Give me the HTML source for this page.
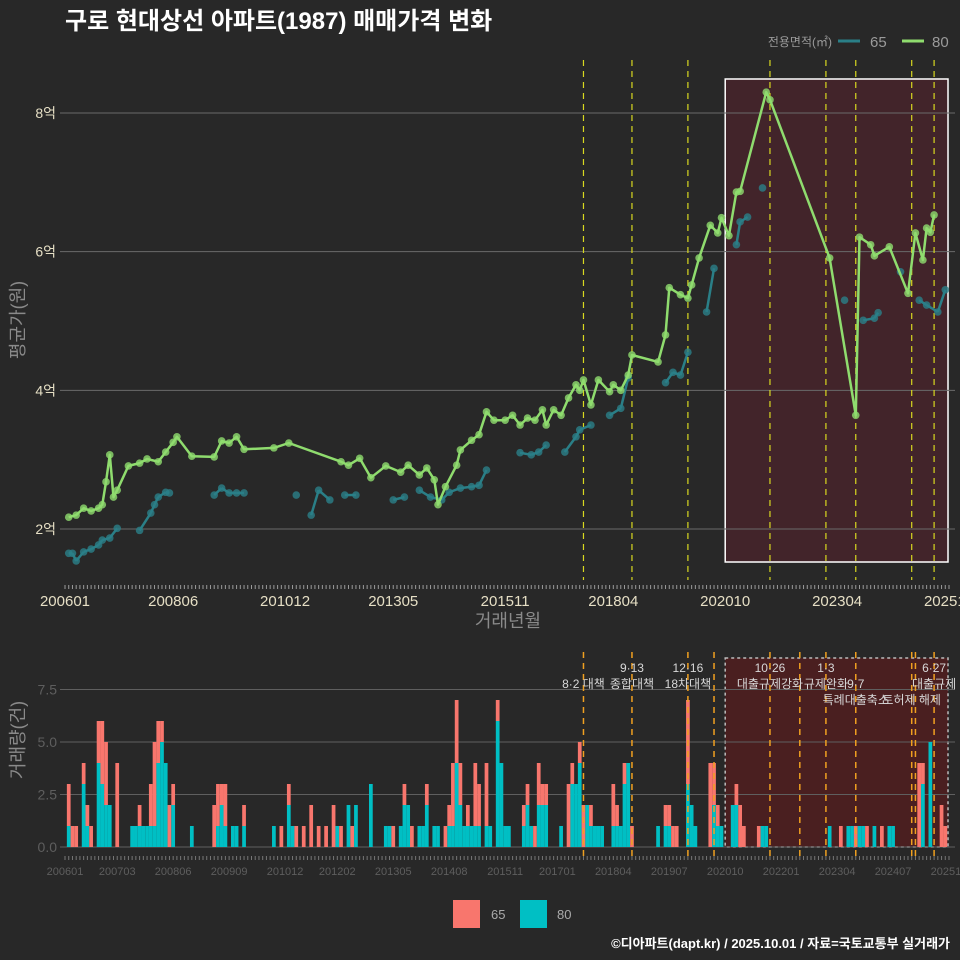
<!DOCTYPE html>
<html><head><meta charset="utf-8">
<style>
html,body{margin:0;padding:0;background:#282828;overflow:hidden}
#wrap{position:relative;width:960px;height:960px;background:#282828;font-family:"Liberation Sans","Noto Sans CJK KR",sans-serif;overflow:hidden}
svg{position:absolute;left:0;top:0}
text{font-family:"Liberation Sans","Noto Sans CJK KR",sans-serif}
</style></head><body>
<div id="wrap">
<svg id="chart" width="960" height="960" viewBox="0 0 960 960">
<text x="65" y="29" font-size="24" font-weight="bold" fill="#ffffff">구로 현대상선 아파트(1987) 매매가격 변화</text>
<g>
<text x="832" y="46" font-size="12" fill="#9a9a9a" text-anchor="end">전용면적(㎡)</text>
<line x1="838" y1="41" x2="860" y2="41" stroke="#2a7f87" stroke-width="3"/>
<text x="870" y="47" font-size="15" fill="#9a9a9a">65</text>
<line x1="902" y1="41" x2="924" y2="41" stroke="#8fdc6e" stroke-width="3"/>
<text x="932" y="47" font-size="15" fill="#9a9a9a">80</text>
</g>
<text transform="translate(24,320) rotate(-90)" font-size="18" fill="#8a8a8a" text-anchor="middle">평균가(원)</text>
<text x="508" y="627" font-size="18" fill="#8a8a8a" text-anchor="middle">거래년월</text>
<text transform="translate(24,740) rotate(-90)" font-size="18" fill="#8a8a8a" text-anchor="middle">거래량(건)</text>
<g>
<rect x="453" y="900" width="27" height="28" fill="#f8766d"/>
<text x="491" y="919" font-size="13" fill="#aaaaaa">65</text>
<rect x="520" y="900" width="27" height="28" fill="#00bfc4"/>
<text x="557" y="919" font-size="13" fill="#aaaaaa">80</text>
</g>
<text x="950" y="948" font-size="13" font-weight="bold" fill="#ffffff" text-anchor="end">©디아파트(dapt.kr) / 2025.10.01 / 자료=국토교통부 실거래가</text>
</svg>
</div>
<script>
// ---- data ----
const priceTicks = [2, 4, 6, 8];
const volTicks = [0, 2.5, 5, 7.5];
const topTickLabels = ["200601","200806","201012","201305","201511","201804","202010","202304","202510"];
const bottomTickLabels = ["200601","200703","200806","200909","201012","201202","201305","201408","201511","201701","201804","201907","202010","202201","202304","202407","202510"];
const s80Dates = ["200602","200604","200606","200608","200610","200611","200612","200701","200702","200703","200706","200709","200711","200802","200804","200806","200807","200811","200905","200907","200909","200911","201001","201009","201101","201203","201205","201208","201211","201303","201307","201309","201312","201402","201404","201405","201407","201410","201411","201502","201504","201506","201508","201511","201601","201603","201605","201607","201609","201610","201612","201702","201704","201706","201707","201708","201710","201712","201803","201804","201806","201808","201809","201904","201906","201907","201910","201912","202001","202003","202006","202008","202009","202011","202101","202102","202109","202110","202302","202309","202310","202401","202402","202406","202411","202501","202503","202504","202505","202506"];
const s80Values = [2.17,2.20,2.30,2.26,2.30,2.35,2.68,3.07,2.46,2.56,2.91,2.95,3.01,2.97,3.11,3.25,3.33,3.05,3.04,3.27,3.24,3.33,3.15,3.17,3.24,2.97,2.92,3.02,2.74,2.91,2.82,2.92,2.78,2.88,2.71,2.35,2.61,2.92,3.14,3.28,3.36,3.69,3.57,3.57,3.64,3.50,3.60,3.57,3.72,3.50,3.72,3.64,3.89,4.08,4.00,4.15,3.79,4.15,3.98,4.08,4.00,4.22,4.51,4.41,4.80,5.48,5.38,5.33,5.52,5.91,6.38,6.27,6.49,6.23,6.86,6.87,8.30,8.19,5.91,3.64,6.21,6.10,5.94,6.07,5.40,6.27,5.88,6.34,6.28,6.53];
const s65Dates = ["200602","200603","200604","200606","200608","200610","200611","200701","200703","200709","200712","200801","200802","200804","200805","200905","200907","200909","200911","201001","201103","201107","201109","201112","201204","201207","201305","201308","201312","201403","201406","201408","201411","201502","201504","201506","201603","201606","201608","201610","201703","201706","201707","201710","201803","201806","201808","201906","201908","201910","201912","202005","202007","202101","202102","202104","202108","202306","202311","202402","202403","202409","202502","202504","202507","202509"];
const s65Values = [1.65,1.65,1.54,1.67,1.71,1.77,1.84,1.87,2.01,1.98,2.23,2.35,2.46,2.53,2.52,2.49,2.59,2.52,2.52,2.52,2.49,2.20,2.56,2.42,2.49,2.49,2.42,2.46,2.56,2.46,2.42,2.53,2.59,2.61,2.63,2.85,3.10,3.07,3.11,3.21,3.11,3.33,3.43,3.50,3.64,3.74,4.18,4.11,4.26,4.22,4.55,5.13,5.76,6.10,6.43,6.50,6.92,5.30,5.01,5.04,5.12,5.71,5.30,5.23,5.13,5.45];
const volMonths = ["200602","200603","200604","200606","200607","200608","200610","200611","200612","200701","200703","200707","200708","200709","200710","200711","200712","200801","200802","200803","200804","200805","200806","200811","200905","200906","200907","200908","200910","200911","201001","201009","201011","201101","201102","201103","201105","201107","201109","201111","201201","201202","201203","201205","201206","201207","201211","201303","201304","201305","201307","201308","201309","201310","201312","201401","201402","201404","201405","201407","201408","201409","201410","201411","201412","201501","201502","201503","201504","201506","201507","201509","201510","201511","201512","201604","201605","201606","201607","201608","201609","201610","201702","201704","201705","201706","201707","201708","201709","201710","201711","201712","201801","201804","201805","201806","201807","201808","201809","201904","201906","201907","201908","201909","201912","202001","202002","202006","202007","202008","202009","202012","202101","202102","202103","202107","202108","202109","202302","202305","202307","202308","202309","202310","202311","202312","202402","202404","202406","202407","202502","202503","202505","202508","202509"];
const vol65 = [2,1,1,1,1,1,2,3,3,0,4,0,0,1,0,0,2,4,2,1,0,2,1,0,2,2,1,2,0,0,1,0,1,1,0,1,1,2,1,1,2,0,1,0,1,0,0,0,0,1,0,1,0,1,0,0,1,0,0,1,1,3,3,2,0,1,0,3,2,3,0,1,0,0,0,1,1,0,1,2,1,1,0,3,1,0,1,2,0,1,0,0,0,2,1,0,1,0,1,0,1,1,1,1,4,0,0,4,2,1,0,0,1,2,1,1,0,0,0,1,0,0,1,0,0,1,0,1,0,0,4,1,0,2,1];
const vol80 = [1,0,0,3,1,0,4,3,2,2,0,1,1,1,1,1,1,1,4,5,4,0,2,1,0,1,2,1,1,1,1,1,0,2,1,0,0,0,0,0,0,1,0,2,0,2,3,1,1,0,1,2,2,0,1,1,2,1,1,0,1,1,4,2,1,1,1,1,1,1,1,6,4,1,1,1,2,1,0,2,2,2,1,0,3,3,4,0,2,1,1,1,1,1,1,1,3,4,0,1,1,1,0,0,3,2,1,0,2,1,1,2,2,0,0,0,1,1,1,0,1,1,0,1,1,0,1,0,1,1,0,3,5,0,0];
const policyTopMonths = ["201708","201809","201912","202110","202301","202309","202412","202506"];
const policyBottomMonths = ["201708","201809","201912","202007","202110","202206","202301","202309","202412","202501","202506"];
const policyLabelMonths = ["201708","201809","201809","201912","201912","202110","202110","202301","202301","202309","202309","202412","202506","202506"];
const policyLabelTexts = ["8·2 대책","9·13","종합대책","12·16","18차대책","10·26","대출규제강화","1·3","규제완화","9·7","특례대출축소","토허제 해제","6·27","대출규제"];
const policyLabelRows = [1,0,1,0,1,0,1,0,1,1,2,2,0,1];
const highlightStart = "202010";

// ---- scales ----
const NS = "http://www.w3.org/2000/svg";
const svgEl = document.getElementById("chart");
function mIdx(d){ return (parseInt(d.slice(0,4),10)-2006)*12 + parseInt(d.slice(4,6),10) - 1; }
function xScale(d){ return 65 + mIdx(d)*3.73; }
function yPrice(v){ return 529 - (v-2)*69.33; }
function yVol(v){ return 847 - v*21; }
function mk(tag, attrs, parent){ const e=document.createElementNS(NS,tag); for(const k in attrs) e.setAttribute(k,attrs[k]); (parent||svgEl).appendChild(e); return e; }

const topG = mk("g",{});


const botG = mk("g",{});



const hb = mk("rect",{x:xScale(highlightStart),y:79,width:948-xScale(highlightStart),height:483,fill:"#42242a",stroke:"#ffffff","stroke-width":1.5},topG);


const hb2 = mk("rect",{x:xScale(highlightStart),y:658,width:948-xScale(highlightStart),height:189,fill:"#4a1f20",stroke:"#bbbbbb","stroke-width":1.5,"stroke-dasharray":"3,3"},botG);



priceTicks.forEach(t=>{
  const l=mk("line",{x1:60,x2:955,y1:yPrice(t),y2:yPrice(t),stroke:"#6a6a6a","stroke-width":1},topG);
  
  
  const tx=mk("text",{x:56,y:yPrice(t)+5,"font-size":14,fill:"#e6dfc5","text-anchor":"end"},topG);
  tx.textContent=t+"억";
  
  
});
volTicks.forEach(t=>{
  const l=mk("line",{x1:60,x2:955,y1:yVol(t),y2:yVol(t),stroke:"#5f5f5f","stroke-width":1},botG);
  
  
  const tx=mk("text",{x:57,y:yVol(t)+5,"font-size":14,fill:"#5e5e5e","text-anchor":"end"},botG);
  tx.textContent=t.toFixed(1);
  
  
});
for(let m=0;m<238;m++){
  const x=65+m*3.73;
  mk("line",{x1:x,x2:x,y1:585,y2:589,stroke:"#9a9a9a","stroke-width":1},topG);
  mk("line",{x1:x,x2:x,y1:856,y2:860,stroke:"#777","stroke-width":1},botG);
}
topTickLabels.forEach(d=>{
  const tx=mk("text",{x:xScale(d),y:606,"font-size":15,fill:"#e6dfc5","text-anchor":"middle"},topG);
  tx.textContent=d;
  
  
});
bottomTickLabels.forEach(d=>{
  const tx=mk("text",{x:xScale(d),y:875,"font-size":11,fill:"#5e5e5e","text-anchor":"middle"},botG);
  tx.textContent=d;
  
  
});

volMonths.forEach((d,i)=>{
  const x=xScale(d)-1.86, w=3.73;
  const a=vol80[i]||0, b=vol65[i]||0;
  if(a>0){
    const r=mk("rect",{x:x,y:yVol(a),width:w,height:a*21,fill:"#00bfc4"},botG);
    
    
  }
  if(b>0){
    const r=mk("rect",{x:x,y:yVol(a+b),width:w,height:b*21,fill:"#f8766d"},botG);
    
    
  }
});

policyTopMonths.forEach(d=>{
  const l=mk("line",{x1:xScale(d),x2:xScale(d),y1:60,y2:580,stroke:"#d8d820","stroke-width":1.2,"stroke-dasharray":"6,5"},topG);
  
  
});
policyBottomMonths.forEach(d=>{
  const l=mk("line",{x1:xScale(d),x2:xScale(d),y1:652,y2:858,stroke:"#f0a020","stroke-width":1.5,"stroke-dasharray":"6,5"},botG);
  
  
});
policyLabelMonths.forEach((d,i)=>{
  const tx=mk("text",{x:xScale(d),y:672+policyLabelRows[i]*16,"font-size":12,fill:"#d8d8d8","text-anchor":"middle"},botG);
  tx.textContent=policyLabelTexts[i];
  
  
});

for(let i=1;i<s65Dates.length;i++){
  const g=mIdx(s65Dates[i])-mIdx(s65Dates[i-1]);
  if(g>0 && g<=3){
    const l=mk("line",{x1:xScale(s65Dates[i-1]),y1:yPrice(s65Values[i-1]),x2:xScale(s65Dates[i]),y2:yPrice(s65Values[i]),stroke:"#2a7f87","stroke-width":2.5},topG);
    
    
  }
}
s65Dates.forEach((d,i)=>{
  const c=mk("circle",{cx:xScale(d),cy:yPrice(s65Values[i]),r:3.8,fill:"#2a8088","fill-opacity":0.8},topG);
  
  
});
const pts=s80Dates.map((d,i)=>xScale(d).toFixed(1)+","+yPrice(s80Values[i]).toFixed(1)).join(" ");
const pl=mk("polyline",{points:pts,fill:"none",stroke:"#8fdc6e","stroke-width":2.5,"stroke-linejoin":"round"},topG);


s80Dates.forEach((d,i)=>{
  const c=mk("circle",{cx:xScale(d),cy:yPrice(s80Values[i]),r:3.8,fill:"#8fdc6e","fill-opacity":0.8},topG);
  
  
});
</script>
</body></html>
